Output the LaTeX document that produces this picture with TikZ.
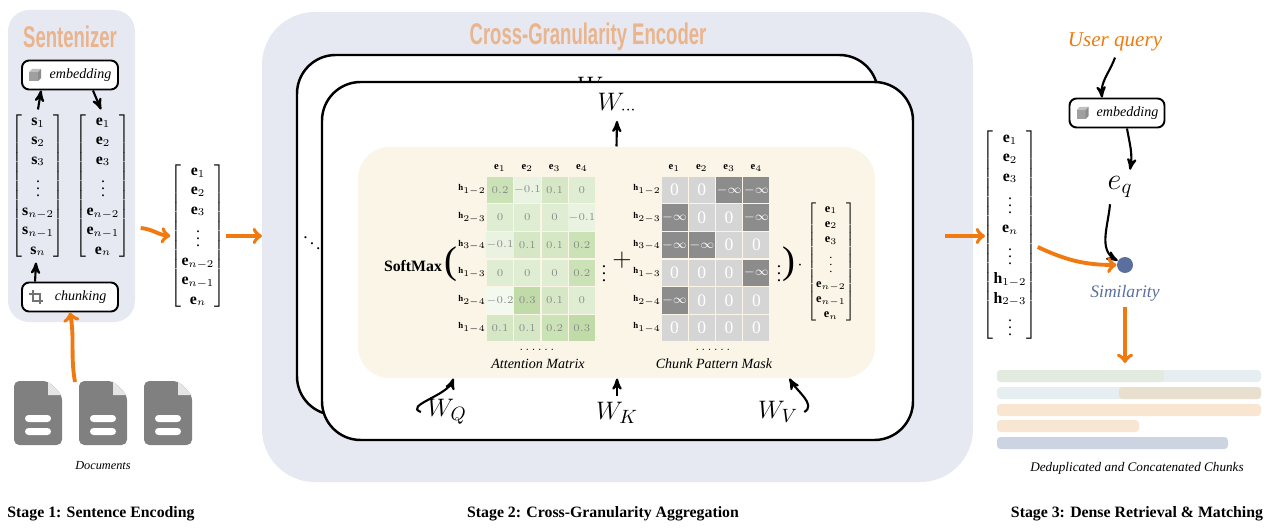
\documentclass[tikz,border=0pt]{standalone}
\usepackage{amsmath,amssymb}
\usepackage{graphicx}
\usepackage{fontspec}
\setmainfont{Liberation Serif}
\setsansfont{Liberation Sans}
\usetikzlibrary{arrows,positioning,calc}

\definecolor{panel}{RGB}{230,233,242}
\definecolor{ttl}{RGB}{234,180,140}
\definecolor{cream}{RGB}{250,245,230}
\definecolor{orng}{RGB}{240,122,16}
\definecolor{simblue}{RGB}{90,111,158}
\definecolor{attg}{RGB}{150,195,110}
\definecolor{mdark}{RGB}{140,140,140}
\definecolor{mlight}{RGB}{213,213,213}
\definecolor{docg}{RGB}{128,128,128}

\newcommand\ttltext[1]{\fontsize{17}{18}\selectfont\sffamily\bfseries\scalebox{0.62}[1]{#1}}
\newcommand\masktext[1]{\ifnum#1=1 {\fontsize{7}{8}\selectfont$-\infty$}\else {\fontsize{10}{11}\selectfont 0}\fi}
% small icons, drawn in pixel units
\newcommand\cubeicon[1]{\begin{scope}[shift={(#1)}]
  \fill[gray!75] (-6,-3) rectangle (3,6);
  \fill[gray!50] (-6,-3)--(-3,-6)--(6,-6)--(3,-3)--cycle;
  \fill[gray!90] (3,-3)--(6,-6)--(6,3)--(3,6)--cycle;\end{scope}}
\newcommand\cropicon[1]{\begin{scope}[shift={(#1)},gray!90!black,line width=1.3pt]
  \draw (-3,-7)--(-3,4)--(7,4); \draw (-7,-3)--(4,-3)--(4,7);\end{scope}}
\newcommand\docicon[2]{\begin{scope}[shift={(#1)}]
  \fill[docg,rounded corners=3pt] (-24,-32)--(10,-32)--(24,-18)--(24,32)--(-24,32)--cycle;
  \fill[white!80!docg] (10,-32)--(10,-18)--(24,-18)--cycle;
  \fill[white,rounded corners=2pt] (-13,2) rectangle (13,9);
  \fill[white,rounded corners=2pt] (-13,15) rectangle (13,22);
  \coordinate (#2) at (0,-32);\end{scope}}

\begin{document}
\begin{tikzpicture}[x=0.02cm, y=-0.02cm, >=stealth', semithick,
  box/.style={draw, line width=1.1pt, rounded corners=4pt, fill=white,
    minimum width=1.92cm, minimum height=0.58cm, font=\fontsize{8}{9}\selectfont\itshape},
  arr/.style={->, line width=1.2pt},
  oarr/.style={->, >=to, line width=2.2pt, orng},
  card/.style={draw, line width=1.4pt, fill=white, rounded corners=22pt},
  vec/.style={inner sep=0pt, font=\fontsize{9}{11}\selectfont},
  acell/.style={minimum width=0.52cm, minimum height=0.53cm, inner sep=0pt,
    text=gray!90, font=\fontsize{6.5}{7}\selectfont},
  mcell/.style={minimum width=0.52cm, minimum height=0.53cm, inner sep=0pt, text=white},
  mcell0/.style={mcell, fill=mlight}, mcell1/.style={mcell, fill=mdark},
  lab/.style={inner sep=0pt, font=\fontsize{6}{7}\selectfont},
  stage/.style={font=\fontsize{9}{10}\selectfont\bfseries}]
\useasboundingbox (0,0) rectangle (1268,530);

% ---- stage 1
\fill[panel, rounded corners=12pt] (8,10) rectangle (135,322);
\node[text=ttl] (sttl) at (70,37) {\ttltext{Sentenizer}};
\node[box] (emb) at (70,75) {\hspace{12pt}embedding};
\cubeicon{$(emb.west)+(14,0)$}
\node[vec] (svec) at (38,186) {$\begin{bmatrix}\mathbf{s}_1\\ \mathbf{s}_2\\ \mathbf{s}_3\\ \vdots\\ \mathbf{s}_{n-2}\\ \mathbf{s}_{n-1}\\ \mathbf{s}_n\end{bmatrix}$};
\node[vec] (evec) at (103,186) {$\begin{bmatrix}\mathbf{e}_1\\ \mathbf{e}_2\\ \mathbf{e}_3\\ \vdots\\ \mathbf{e}_{n-2}\\ \mathbf{e}_{n-1}\\ \mathbf{e}_n\end{bmatrix}$};
\node[box] (chunk) at (70,297) {\hspace{12pt}chunking};
\cropicon{$(chunk.west)+(15,0)$}
\draw[arr] ($(svec.north)+(0,-2)$) -- ($(emb.south west)+(20,0)$);
\draw[arr] ($(emb.south east)+(-26,0)$) -- ($(evec.north)+(-2,-2)$);
\draw[arr] ($(chunk.north west)+(14,0)$) -- ($(svec.south)+(-2,2)$);
\docicon{38,413}{d1}
\docicon{103,413}{d2}
\docicon{168,413}{d3}
\node[font=\fontsize{7}{8}\selectfont\itshape] (docs) at (103,466) {Documents};
\coordinate (docsrc) at (75,382);
\draw[oarr] (docsrc) to[out=100, in=-80] (chunk.south);
\node[vec] (mvec) at (198,236) {$\begin{bmatrix}\mathbf{e}_1\\ \mathbf{e}_2\\ \mathbf{e}_3\\ \vdots\\ \mathbf{e}_{n-2}\\ \mathbf{e}_{n-1}\\ \mathbf{e}_n\end{bmatrix}$};
\draw[oarr] ($(evec.east)+(10,42)$) to[out=-5, in=175] (mvec.west);
\draw[oarr] (mvec.east) -- (262,236);

% ---- stage 2
\fill[panel, rounded corners=30pt] (262,12) rectangle (973,482);
\node[text=ttl] (ettl) at (588,37) {\ttltext{Cross-Granularity Encoder}};
\draw[card] (297,55) rectangle (878,415);
\node[font=\fontsize{15}{16}\selectfont] (wback) at (590,86) {$W$};
\draw[card] (322,82) rectangle (913,440);
\node (ddots) at (312,238) {$\ddots$};
\node[fill=cream, rounded corners=18pt, minimum width=10.34cm, minimum height=4.62cm] (inner) at (616.5,262.5) {};
\node[font=\fontsize{14}{15}\selectfont] (wdots) at (617,104) {$W_{\cdots}$};
\draw[arr] (inner.north) -- (wdots.south);
\node[font=\fontsize{9}{10}\selectfont\bfseries] (softmax) at (413,266) {SoftMax};
\node[font=\fontsize{22}{24}\selectfont] (lpar) at (451,264) {(};
\foreach \h [count=\c] in {1,2,3,4}{
  \node[lab] (ah-\c) at ({472.7+27.3*\c},168) {$\mathbf{e}_{\h}$};
  \node[lab] (mh-\c) at ({647.2+27.3*\c},168) {$\mathbf{e}_{\h}$};
}
\foreach \rl [count=\r] in {1-2,2-3,3-4,1-3,2-4,1-4}{
  \node[lab,font=\fontsize{5}{6}\selectfont] (ar-\r) at (472,{162.4+27.6*\r}) {$\mathbf{h}_{\rl}$};
  \node[lab,font=\fontsize{5}{6}\selectfont] (mr-\r) at (647,{162.4+27.6*\r}) {$\mathbf{h}_{\rl}$};
}
\foreach \vals [count=\r] in {{0.2,-0.1,0.1,0},{0,0,0,-0.1},{-0.1,0.1,0.1,0.2},{0,0,0,0.2},{-0.2,0.3,0.1,0},{0.1,0.1,0.2,0.3}}{
  \foreach \v [count=\c] in \vals {
    \pgfmathsetmacro\pct{30+100*\v}
    \node[acell, fill=attg!\pct] (a-\r-\c) at ({472.7+27.3*\c},{162.4+27.6*\r}) {$\v$};
  }
}
\foreach \vals [count=\r] in {{0,0,1,1},{1,0,0,1},{1,1,0,0},{0,0,0,1},{1,0,0,0},{0,0,0,0}}{
  \foreach \v [count=\c] in \vals {
    \node[mcell\v] (m-\r-\c) at ({647.2+27.3*\c},{162.4+27.6*\r}) {\masktext{\v}};
  }
}
\node[inner sep=0pt] (adots) at (604,268) {$\vdots$};
\node[font=\fontsize{14}{15}\selectfont] (plus) at (622,260) {$+$};
\node[inner sep=0pt] (mdots) at (779,268) {$\vdots$};
\node[font=\fontsize{22}{24}\selectfont, inner sep=0pt] (rpar) at (789,264) {)};
\node[inner sep=0pt] (cdot) at (800,266) {$\cdot$};
\node[vec, font=\fontsize{7}{8.6}\selectfont] (ivec) at (831,262) {$\begin{bmatrix}\mathbf{e}_1\\ \mathbf{e}_2\\ \mathbf{e}_3\\ \vdots\\ \mathbf{e}_{n-2}\\ \mathbf{e}_{n-1}\\ \mathbf{e}_n\end{bmatrix}$};
\node[lab] (ahd) at (538,350) {$\cdots\cdots$};
\node[lab] (mhd) at (714,350) {$\cdots\cdots$};
\node[font=\fontsize{8}{9}\selectfont\itshape] (attl) at (538,364) {Attention Matrix};
\node[font=\fontsize{8}{9}\selectfont\itshape] (mskl) at (714,364) {Chunk Pattern Mask};
\node[font=\fontsize{15}{16}\selectfont] (wq) at (447,412) {$W_Q$};
\node[font=\fontsize{15}{16}\selectfont] (wk) at (617,413) {$W_K$};
\node[font=\fontsize{15}{16}\selectfont] (wv) at (778,412) {$W_V$};
\draw[arr] (wq.west) to[out=160, in=-110] ($(inner.south west)+(96,0)$);
\draw[arr] (wk.north) -- (inner.south -| wk.north);
\draw[arr] (wv.east) to[out=30, in=-60] ($(inner.south east)+(-86,0)$);
\draw[oarr] (945,236) -- (985,236);

% ---- stage 3
\node[vec] (rvec) at (1010,235) {$\begin{bmatrix}\mathbf{e}_1\\ \mathbf{e}_2\\ \mathbf{e}_3\\ \vdots\\ \mathbf{e}_n\\ \vdots\\ \mathbf{h}_{1-2}\\ \mathbf{h}_{2-3}\\ \vdots\end{bmatrix}$};
\node[text=orng, font=\fontsize{12}{13}\selectfont\itshape] (query) at (1115,42) {User query};
\node[box, minimum width=1.9cm] (qemb) at (1117,113) {\hspace{12pt}embedding};
\cubeicon{$(qemb.west)+(14,0)$}
\node[font=\fontsize{17}{18}\selectfont] (eq) at (1120,187) {$e_q$};
\node[circle, fill=simblue, minimum size=0.32cm, inner sep=0pt] (sim) at (1125,265) {};
\node[text=simblue, font=\fontsize{10}{11}\selectfont\itshape] (siml) at (1125,293) {Similarity};
\draw[arr] (query.south) to[out=-110, in=95] (qemb.north west -| 1102,0);
\draw[arr] ($(qemb.south)+(10,0)$) to[out=-80, in=80] ($(eq.north)+(10,0)$);
\draw[arr] ($(eq.south)+(-10,0)$) to[out=-95, in=150] (sim);
\draw[oarr] ($(rvec.east)+(0,12)$) to[out=-25, in=180] (sim.west);
\coordinate (bars) at (1125,363);
\draw[oarr] (siml.south) -- (bars);
\fill[rounded corners=2pt, fill={rgb,255:red,230;green,238;blue,242}] (997,370) rectangle (1261,382);
\fill[rounded corners=2pt, fill={rgb,255:red,227;green,234;blue,223}] (997,370) rectangle (1164,382);
\fill[rounded corners=2pt, fill={rgb,255:red,230;green,238;blue,242}] (997,387) rectangle (1261,399);
\fill[rounded corners=2pt, fill={rgb,255:red,232;green,223;blue,207}] (1119,387) rectangle (1261,399);
\fill[rounded corners=2pt, fill={rgb,255:red,249;green,230;blue,210}] (997,404) rectangle (1261,416);
\fill[rounded corners=2pt, fill={rgb,255:red,249;green,230;blue,210}] (997,420) rectangle (1139,432);
\fill[rounded corners=2pt, fill={rgb,255:red,205;green,212;blue,225}] (997,437) rectangle (1228,449);
\node[font=\fontsize{7.5}{8}\selectfont\itshape] (chunksl) at (1137,468) {Deduplicated and Concatenated Chunks};

% ---- stage labels
\node[stage] (st1) at (101,514) {Stage 1: Sentence Encoding};
\node[stage] (st2) at (603,514) {Stage 2: Cross-Granularity Aggregation};
\node[stage] (st3) at (1137,514) {Stage 3: Dense Retrieval \& Matching};
\end{tikzpicture}
\end{document}
